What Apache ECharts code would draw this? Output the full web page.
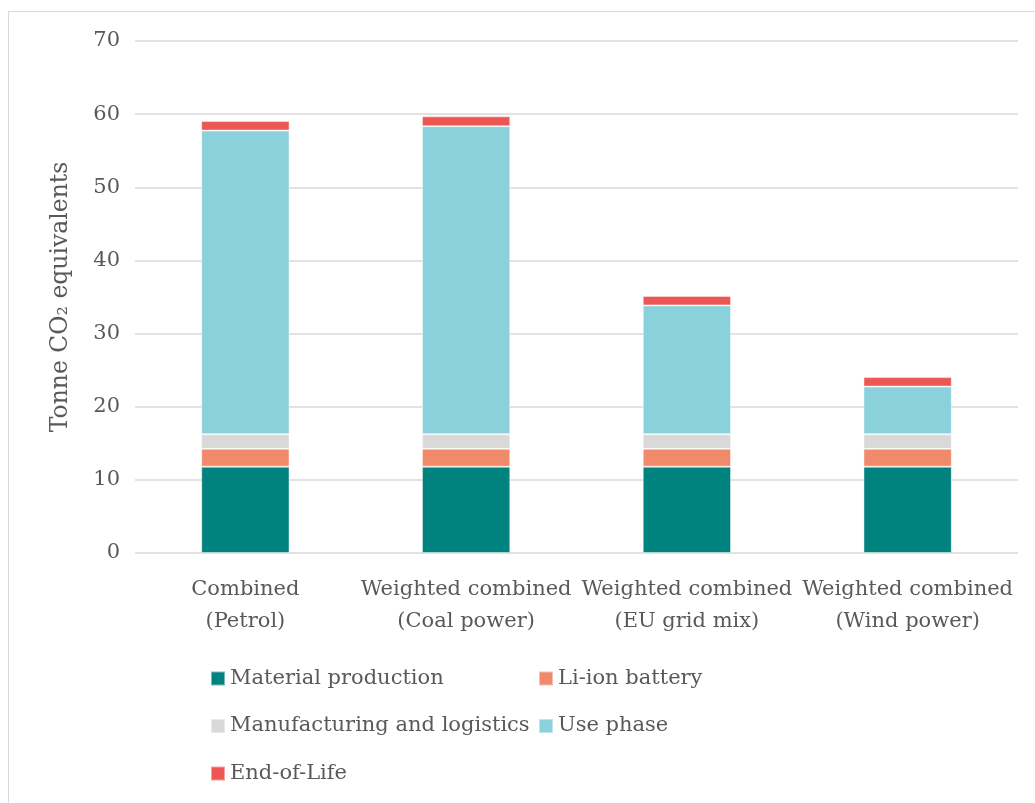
<!DOCTYPE html>
<html>
<head>
<meta charset="utf-8">
<script src="https://cdn.jsdelivr.net/npm/echarts@6/dist/echarts.min.js"></script>
<style>
html,body{margin:0;padding:0;background:#fff;}
#frame{position:absolute;left:8px;top:11px;width:1026px;height:800px;border-top:1px solid #d9d9d9;border-left:1px solid #d9d9d9;}
#chart{position:absolute;left:0;top:0;width:1035px;height:803px;}
</style>
</head>
<body>
<div id="frame"></div>
<div id="chart"></div>
<script>
const categories = ['Combined\n(Petrol)', 'Weighted combined\n(Coal power)', 'Weighted combined\n(EU grid mix)', 'Weighted combined\n(Wind power)'];
const materialProduction = [11.8, 11.8, 11.8, 11.8];
const liIonBattery = [2.45, 2.45, 2.45, 2.45];
const manufacturingLogistics = [2.0, 2.0, 2.0, 2.0];
const usePhase = [41.5, 42.1, 17.6, 6.5];
const endOfLife = [1.3, 1.35, 1.3, 1.3];
const yTicks = [0, 10, 20, 30, 40, 50, 60, 70];

const FONT = 'DejaVu Serif';
const TXT = '#595959';
const FS = 21;
const chart = echarts.init(document.getElementById('chart'), null, {renderer: 'canvas'});
const mk = (name, data, color) => ({
  name, type: 'bar', stack: 'total', data, barWidth: '40%',
  itemStyle: {color, borderColor: 'rgba(255,255,255,0.45)', borderWidth: 1},
  emphasis: {disabled: true}
});
chart.setOption({
  animation: false,
  textStyle: {fontFamily: FONT},
  grid: {left: 135, right: 17, top: 41, bottom: 250, containLabel: false},
  xAxis: {
    type: 'category', data: categories,
    axisLine: {show: false}, axisTick: {show: false},
    axisLabel: {color: TXT, fontSize: FS, fontFamily: FONT, lineHeight: 32, margin: 21, interval: 0}
  },
  yAxis: {
    type: 'value', min: yTicks[0], max: yTicks[yTicks.length - 1], interval: 10,
    name: 'Tonne CO\u2082 equivalents', nameLocation: 'middle', nameGap: 62,
    nameTextStyle: {color: TXT, fontSize: 23.5, fontFamily: FONT},
    axisLine: {show: false}, axisTick: {show: false},
    axisLabel: {color: TXT, fontSize: FS, fontFamily: FONT, margin: 15},
    splitLine: {lineStyle: {color: '#d9d9d9', width: 1.5}}
  },
  legend: [
    {
      left: 205, top: 663, orient: 'vertical', itemGap: 26.5,
      itemWidth: 14, itemHeight: 14, icon: 'rect',
      textStyle: {color: TXT, fontSize: FS, fontFamily: FONT},
      data: ['Material production', 'Manufacturing and logistics', 'End-of-Life']
    },
    {
      left: 533, top: 663, orient: 'vertical', itemGap: 26.5,
      itemWidth: 14, itemHeight: 14, icon: 'rect',
      textStyle: {color: TXT, fontSize: FS, fontFamily: FONT},
      data: ['Li-ion battery', 'Use phase']
    }
  ],
  series: [
    mk('Material production', materialProduction, '#00827F'),
    mk('Li-ion battery', liIonBattery, '#F08A6B'),
    mk('Manufacturing and logistics', manufacturingLogistics, '#D9D9D9'),
    mk('Use phase', usePhase, '#8BD1DB'),
    mk('End-of-Life', endOfLife, '#EE5653')
  ]
});
</script>
</body>
</html>
